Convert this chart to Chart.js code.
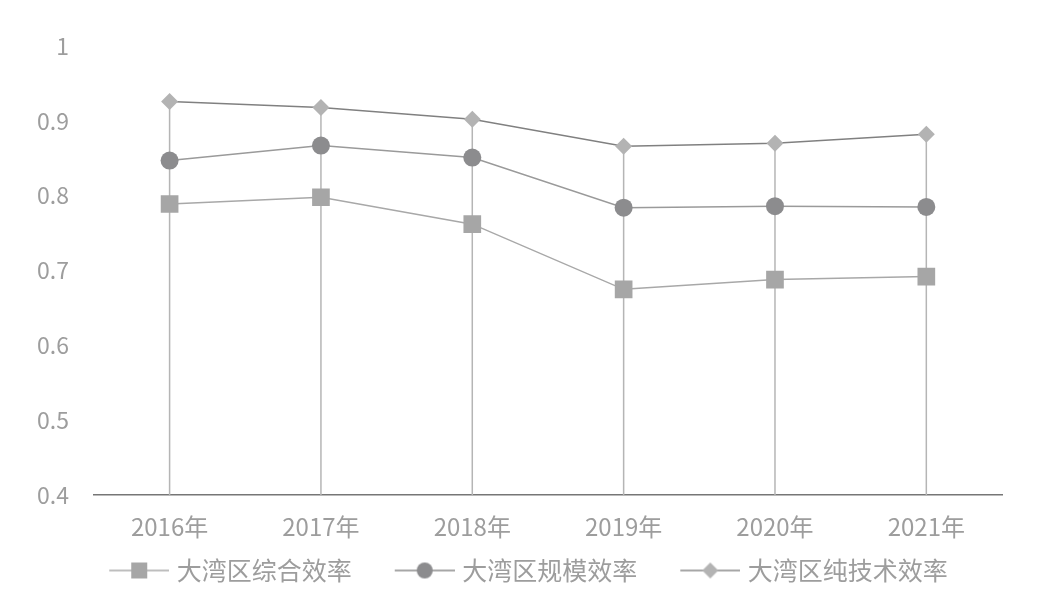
<!DOCTYPE html>
<html>
<head>
<meta charset="utf-8">
<script src="https://cdn.jsdelivr.net/npm/chart.js@4/dist/chart.umd.min.js"></script>
<style>
  html, body { margin: 0; padding: 0; background: #fff; }
  #wrap { width: 1039px; height: 593px; }
</style>
</head>
<body>
<div id="wrap"><canvas id="lineChart"></canvas></div>
<script>
const years = ['2016年', '2017年', '2018年', '2019年', '2020年', '2021年'];
const seriesNames = ['大湾区综合效率', '大湾区规模效率', '大湾区纯技术效率'];
const zongheValues = [0.789, 0.798, 0.762, 0.675, 0.688, 0.692];
const guimoValues = [0.847, 0.867, 0.851, 0.784, 0.786, 0.785];
const chunjishuValues = [0.926, 0.918, 0.902, 0.866, 0.870, 0.882];

const FONT = '"Noto Sans CJK SC", "Noto Sans", sans-serif';
const TEXT_GRAY = '#9d9d9d';
const ICON_GAP = 40;   // blank space on the left of each legend sample
const ICON_LINE = 60;
const ICON_OVER = 5;   // sample reaches this far past its box, closer to the text

// legend sample: short line with the marker in the middle
function makeLegendIcon(style, fill, lineColor) {
  const c = document.createElement('canvas');
  c.width = ICON_GAP + ICON_LINE;
  c.height = 22;
  const ctx = c.getContext('2d');
  const cx = ICON_GAP + ICON_LINE / 2;
  ctx.strokeStyle = lineColor;
  ctx.lineWidth = 1.5;
  ctx.beginPath();
  ctx.moveTo(ICON_GAP, 11);
  ctx.lineTo(ICON_GAP + ICON_LINE, 11);
  ctx.stroke();
  ctx.fillStyle = fill;
  ctx.beginPath();
  if (style === 'rect') {
    ctx.rect(cx - 8, 11 - 8, 16, 16);
  } else if (style === 'circle') {
    ctx.arc(cx, 11, 8, 0, Math.PI * 2);
  } else {
    ctx.moveTo(cx, 3);
    ctx.lineTo(cx + 8, 11);
    ctx.lineTo(cx, 19);
    ctx.lineTo(cx - 8, 11);
    ctx.closePath();
  }
  ctx.fill();
  return c;
}

const dropLines = {
  id: 'dropLines',
  beforeDatasetsDraw(chart) {
    const ctx = chart.ctx;
    const xScale = chart.scales.x;
    const yScale = chart.scales.y;
    const bottom = chart.chartArea.bottom;
    ctx.save();
    ctx.strokeStyle = '#b5b5b5';
    ctx.lineWidth = 1.5;
    years.forEach((label, i) => {
      const top = Math.max(...chart.data.datasets.map(ds => ds.data[i]));
      const x = xScale.getPixelForValue(i);
      ctx.beginPath();
      ctx.moveTo(x, yScale.getPixelForValue(top));
      ctx.lineTo(x, bottom);
      ctx.stroke();
    });
    ctx.restore();
  }
};

const ctx = document.getElementById('lineChart').getContext('2d');
const lineChart = new Chart(ctx, {
  type: 'line',
  data: {
    labels: years,
    datasets: [
      {
        label: seriesNames[0],
        data: zongheValues,
        borderColor: '#a8a8a8',
        backgroundColor: '#a6a6a6',
        borderWidth: 1.5,
        pointStyle: 'rect',
        pointRadius: 12.5,
        pointBorderWidth: 0,
        legendIcon: makeLegendIcon('rect', '#a6a6a6', '#a8a8a8')
      },
      {
        label: seriesNames[1],
        data: guimoValues,
        borderColor: '#9a9a9a',
        backgroundColor: '#8c8c8e',
        borderWidth: 1.5,
        pointStyle: 'circle',
        pointRadius: 9,
        pointBorderWidth: 0,
        legendIcon: makeLegendIcon('circle', '#8c8c8e', '#8a8a8a')
      },
      {
        label: seriesNames[2],
        data: chunjishuValues,
        borderColor: '#808080',
        backgroundColor: '#b3b3b3',
        borderWidth: 1.5,
        pointStyle: 'rectRot',
        pointRadius: 8.5,
        pointBorderWidth: 0,
        legendIcon: makeLegendIcon('rectRot', '#b3b3b3', '#8a8a8a')
      }
    ]
  },
  options: {
    responsive: true,
    maintainAspectRatio: false,
    animation: false,
    layout: { padding: { left: 20, right: 37, top: 46, bottom: 0 } },
    scales: {
      x: {
        offset: true,
        grid: { display: false, offset: false },
        border: { display: true, color: '#767676', width: 1.5 },
        ticks: { color: TEXT_GRAY, font: { family: FONT, size: 24 }, padding: 9 }
      },
      y: {
        min: 0.4,
        max: 1,
        grid: { display: false },
        border: { display: false },
        ticks: {
          stepSize: 0.1,
          color: TEXT_GRAY,
          font: { family: FONT, size: 23 },
          padding: 17,
          callback: v => String(+v.toFixed(1))
        }
      }
    },
    plugins: {
      tooltip: { enabled: false },
      legend: {
        position: 'bottom',
        labels: {
          usePointStyle: true,
          pointStyleWidth: ICON_GAP + ICON_LINE - 2 * ICON_OVER,
          padding: 8,
          color: TEXT_GRAY,
          font: { family: FONT, size: 25 },
          generateLabels(chart) {
            return chart.data.datasets.map((ds, i) => ({
              text: ds.label,
              pointStyle: ds.legendIcon,
              fontColor: TEXT_GRAY,
              lineWidth: 0,
              datasetIndex: i,
              hidden: false
            }));
          }
        }
      }
    }
  },
  plugins: [dropLines]
});
</script>
</body>
</html>
